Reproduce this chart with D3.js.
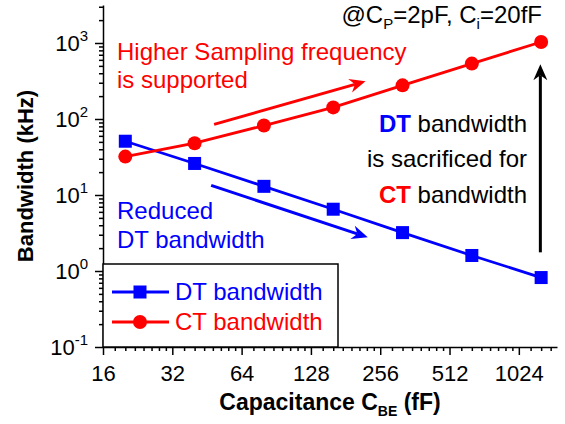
<!DOCTYPE html>
<html>
<head>
<meta charset="utf-8">
<script src="https://cdn.jsdelivr.net/npm/d3@7"></script>
<style>
body { margin: 0; background: #fff; }
text { font-family: Arial, "Liberation Sans", sans-serif; }
</style>
</head>
<body>
<script>
//chart values
var capacitance = [20, 40, 80, 160, 320, 640, 1280];
var dtBandwidth = [51, 26, 13, 6.5, 3.2, 1.6, 0.82];
var ctBandwidth = [32, 48, 82, 142, 277, 536, 1030];
var xTickValues = [16, 32, 64, 128, 256, 512, 1024];
var yTickExponents = [-1, 0, 1, 2, 3];
var seriesNames = ["DT bandwidth", "CT bandwidth"];

//svg frame
var width = 565,
    height = 424;

var svg = d3.select("body")
    .append("svg")
    .attr("width", width)
    .attr("height", height);

//log scales, base 2 for capacitance and base 10 for bandwidth
var x = d3.scaleLog().base(2)
    .domain([16, 1500])
    .range([103, 557]);

var y = d3.scaleLog()
    .domain([0.1, 3162])
    .range([347, 5]);

//minor ticks
var xMinor = [];
xTickValues.forEach(function(b){
    for (var k = 1; k < 8; k++){
        var v = b * (1 + k / 8);
        if (v < 1500) xMinor.push(v);
    }
});
var yMinor = [];
yTickExponents.forEach(function(e){
    for (var k = 2; k < 10; k++){
        var v = k * Math.pow(10, e);
        if (v < 3162) yMinor.push(v);
    }
});

//x axis
var xAxis = svg.append("g")
    .attr("class", "x-axis")
    .attr("transform", "translate(0," + y.range()[0] + ")")
    .call(d3.axisBottom(x).tickValues(xTickValues).tickSize(8).tickSizeOuter(0).tickFormat(d3.format("d")));
svg.append("g")
    .attr("transform", "translate(0," + y.range()[0] + ")")
    .call(d3.axisBottom(x).tickValues(xMinor).tickSize(4).tickSizeOuter(0).tickFormat(""))
    .select(".domain").remove();

xAxis.selectAll("text")
    .attr("font-size", 22)
    .attr("fill", "#000")
    .attr("y", 18)
    .attr("dy", "0.71em");

//y axis
svg.append("g")
    .attr("class", "y-axis")
    .attr("transform", "translate(" + x.range()[0] + ",0)")
    .call(d3.axisLeft(y).tickValues(yTickExponents.map(function(e){ return Math.pow(10, e); })).tickSize(8).tickSizeOuter(0).tickFormat(""));
svg.append("g")
    .attr("transform", "translate(" + x.range()[0] + ",0)")
    .call(d3.axisLeft(y).tickValues(yMinor).tickSize(4).tickSizeOuter(0).tickFormat(""))
    .select(".domain").remove();

svg.selectAll(".domain, .tick line")
    .attr("stroke", "#000")
    .attr("stroke-width", 1.5);

//y tick labels as 10 with superscript
var yLabels = svg.selectAll(".ylabel")
    .data(yTickExponents)
    .enter()
    .append("text")
    .attr("class", "ylabel")
    .attr("text-anchor", "end")
    .attr("x", 88)
    .attr("y", function(d){ return y(Math.pow(10, d)) + 8; })
    .attr("font-size", 22);
yLabels.append("tspan").text("10");
yLabels.append("tspan")
    .attr("font-size", 15)
    .attr("dy", -10)
    .text(function(d){ return d < 0 ? "-" + (-d) : d; });

//axis titles
svg.append("text")
    .attr("transform", "translate(33,176) rotate(-90)")
    .attr("text-anchor", "middle")
    .attr("font-size", 22)
    .attr("font-weight", "bold")
    .text("Bandwidth (kHz)");

var xTitle = svg.append("text")
    .attr("x", 330)
    .attr("y", 410)
    .attr("text-anchor", "middle")
    .attr("font-size", 23)
    .attr("font-weight", "bold");
xTitle.append("tspan").text("Capacitance C");
xTitle.append("tspan").attr("font-size", 14).attr("dy", 6).text("BE");
xTitle.append("tspan").attr("dy", -6).text(" (fF)");

//legend box
var legend = svg.append("g").attr("class", "legend");
legend.append("rect")
    .attr("x", x.range()[0])
    .attr("y", 264)
    .attr("width", 235)
    .attr("height", y.range()[0] - 264)
    .attr("fill", "#fff")
    .attr("stroke", "#000")
    .attr("stroke-width", 1.5);

var series = [
    {name: seriesNames[0], values: dtBandwidth, color: "#0000ff", shape: "square"},
    {name: seriesNames[1], values: ctBandwidth, color: "#ff0000", shape: "circle"}
];

var line = d3.line()
    .x(function(d){ return x(d[0]); })
    .y(function(d){ return y(d[1]); });

function drawMarker(g, shape, color){
    if (shape === "square"){
        g.append("rect")
            .attr("x", -6.5).attr("y", -6.5)
            .attr("width", 13).attr("height", 13)
            .attr("fill", color);
    } else {
        g.append("circle")
            .attr("r", 7)
            .attr("fill", color);
    }
}

series.forEach(function(s, i){
    var pts = capacitance.map(function(c, j){ return [c, s.values[j]]; });
    svg.append("path")
        .datum(pts)
        .attr("fill", "none")
        .attr("stroke", s.color)
        .attr("stroke-width", 2.8)
        .attr("d", line);
    svg.selectAll(".pt" + i)
        .data(pts)
        .enter()
        .append("g")
        .attr("class", "pt" + i)
        .attr("transform", function(d){ return "translate(" + x(d[0]) + "," + y(d[1]) + ")"; })
        .each(function(){ drawMarker(d3.select(this), s.shape, s.color); });

    //legend entry
    var ly = 292 + i * 30;
    legend.append("line")
        .attr("x1", 112).attr("x2", 169)
        .attr("y1", ly).attr("y2", ly)
        .attr("stroke", s.color)
        .attr("stroke-width", 2.8);
    drawMarker(legend.append("g").attr("transform", "translate(140," + ly + ")"), s.shape, s.color);
    legend.append("text")
        .attr("x", 175)
        .attr("y", ly + 8)
        .attr("font-size", 24)
        .attr("fill", s.color)
        .text(s.name);
});

//annotation arrows, ends given in data units
function arrow(from, to, color){
    var x1 = x(from[0]), y1 = y(from[1]), x2 = x(to[0]), y2 = y(to[1]);
    var a = Math.atan2(y2 - y1, x2 - x1);
    var len = 16, half = 7, back = 11;
    svg.append("line")
        .attr("x1", x1).attr("y1", y1)
        .attr("x2", x2 - Math.cos(a) * back).attr("y2", y2 - Math.sin(a) * back)
        .attr("stroke", color)
        .attr("stroke-width", 3);
    var p = d3.path();
    p.moveTo(x2, y2);
    p.lineTo(x2 - Math.cos(a) * len + Math.sin(a) * half, y2 - Math.sin(a) * len - Math.cos(a) * half);
    p.lineTo(x2 - Math.cos(a) * back, y2 - Math.sin(a) * back);
    p.lineTo(x2 - Math.cos(a) * len - Math.sin(a) * half, y2 - Math.sin(a) * len + Math.cos(a) * half);
    p.closePath();
    svg.append("path").attr("d", p.toString()).attr("fill", color);
}

arrow([48.6, 85], [221, 313], "#ff0000");
arrow([47.2, 13.4], [226, 2.77], "#0000ff");
arrow([1270, 1.76], [1270, 525], "#000");

//annotation texts
var note = svg.append("text")
    .attr("x", 542)
    .attr("y", 23)
    .attr("text-anchor", "end")
    .attr("font-size", 24);
note.append("tspan").text("@C");
note.append("tspan").attr("font-size", 15).attr("dy", 6).text("P");
note.append("tspan").attr("dy", -6).text("=2pF, C");
note.append("tspan").attr("font-size", 15).attr("dy", 6).text("i");
note.append("tspan").attr("dy", -6).text("=20fF");

svg.append("text").attr("x", 117).attr("y", 60).attr("font-size", 24).attr("fill", "#ff0000").text("Higher Sampling frequency");
svg.append("text").attr("x", 117).attr("y", 88).attr("font-size", 24).attr("fill", "#ff0000").text("is supported");

svg.append("text").attr("x", 117).attr("y", 219).attr("font-size", 24).attr("fill", "#0000ff").text("Reduced");
svg.append("text").attr("x", 117).attr("y", 248).attr("font-size", 24).attr("fill", "#0000ff").text("DT bandwidth");

var s1 = svg.append("text").attr("x", 527).attr("y", 132).attr("text-anchor", "end").attr("font-size", 24);
s1.append("tspan").attr("fill", "#0000ff").attr("font-weight", "bold").text("DT");
s1.append("tspan").text(" bandwidth");
svg.append("text").attr("x", 527).attr("y", 167).attr("text-anchor", "end").attr("font-size", 24).text("is sacrificed for");
var s3 = svg.append("text").attr("x", 527).attr("y", 203).attr("text-anchor", "end").attr("font-size", 24);
s3.append("tspan").attr("fill", "#ff0000").attr("font-weight", "bold").text("CT");
s3.append("tspan").text(" bandwidth");
</script>
</body>
</html>
